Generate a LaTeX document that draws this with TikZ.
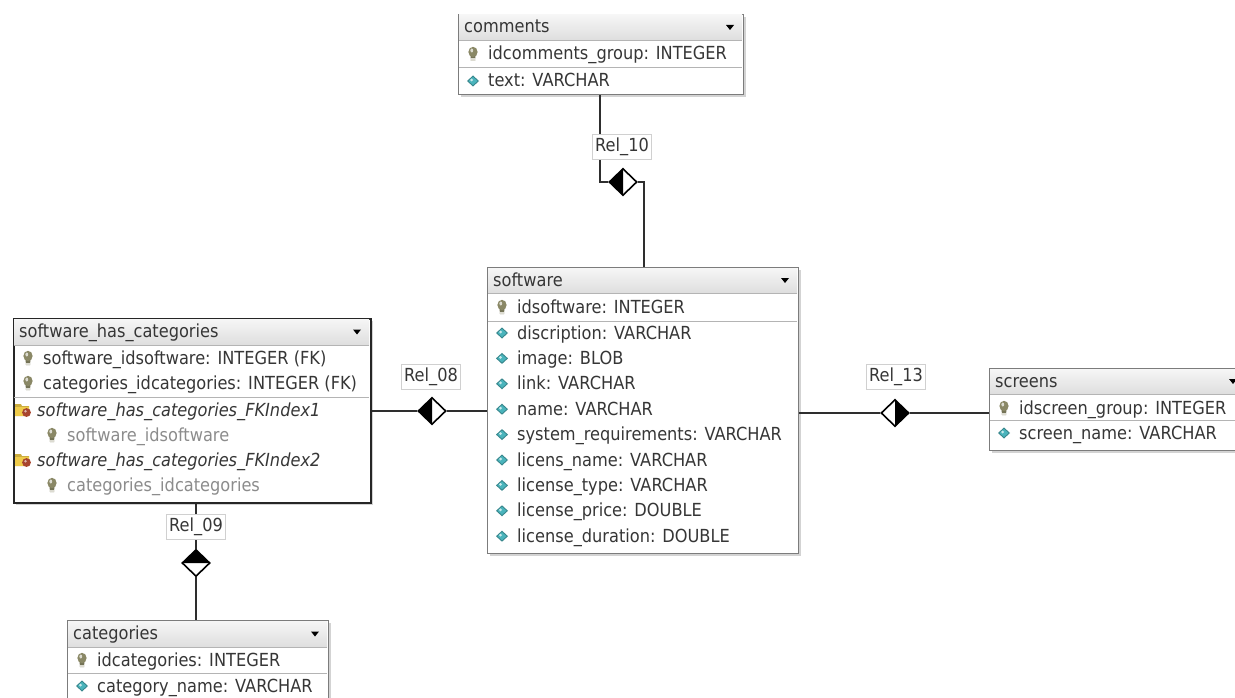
\documentclass[tikz,border=0pt]{standalone}
\usepackage{fontspec}
\setmainfont{DejaVu Sans}[FakeStretch=0.9]
\usetikzlibrary{shapes.geometric,shadows}
\definecolor{txt}{HTML}{363636}
\definecolor{subtxt}{HTML}{8C8C8C}
\definecolor{tblborder}{HTML}{7C7C7C}
\definecolor{sepline}{HTML}{B4B4B4}
\definecolor{hdrtop}{HTML}{F6F6F6}
\definecolor{hdrbot}{HTML}{DEDEDE}
\definecolor{connc}{HTML}{2E2E2E}
\definecolor{lblborder}{HTML}{D0D0D0}
\definecolor{keyc}{HTML}{8A8866}
\definecolor{attrc}{HTML}{4AB4BC}
\definecolor{foldc}{HTML}{EFCB4A}
\definecolor{dotc}{HTML}{A8452E}
\newcommand{\tfont}{\fontsize{18}{20}\selectfont}

\tikzset{
  tbl/.style={draw=tblborder, line width=1.3pt, fill=white, inner sep=0pt,
    drop shadow={shadow xshift=2pt, shadow yshift=-2pt, opacity=0.35}},
  tblsel/.style={draw=black!85, line width=2pt, fill=white, inner sep=0pt,
    drop shadow={shadow xshift=2pt, shadow yshift=-2pt, opacity=0.35}},
  ttl/.style={anchor=base west, inner sep=0pt, text=txt, font=\tfont},
  fld/.style={anchor=base west, inner sep=0pt, text=txt, font=\tfont},
  idxfld/.style={anchor=base west, inner sep=0pt, text=txt, font=\tfont\itshape},
  subfld/.style={anchor=base west, inner sep=0pt, text=subtxt, font=\tfont},
  conn/.style={draw=connc, line width=1.8pt},
  rellbl/.style={draw=lblborder, line width=0.8pt, fill=white, text=txt, font=\tfont,
    inner xsep=3pt, inner ysep=0pt, minimum height=25pt},
  dia/.style={shape=diamond, draw=black, line width=1.6pt, fill=white,
    minimum width=28pt, minimum height=27pt, inner sep=0pt},
  diaL/.style={dia, path picture={\fill[black] (path picture bounding box.north) --
    (path picture bounding box.west) -- (path picture bounding box.south) -- cycle;}},
  diaR/.style={dia, path picture={\fill[black] (path picture bounding box.north) --
    (path picture bounding box.east) -- (path picture bounding box.south) -- cycle;}},
  diaT/.style={dia, path picture={\fill[black] (path picture bounding box.west) --
    (path picture bounding box.north) -- (path picture bounding box.east) -- cycle;}},
  pkicon/.pic={
    \fill[keyc!85!black] (-2.6,0) -- (2.6,0) -- (2,7) -- (-2,7) -- cycle;
    \fill[keyc!30!white] (-2,4.5) rectangle (2,7);
    \fill[keyc] (0,-2) ellipse (4.6pt and 5.2pt);
    \fill[keyc!30!white] (-1.2,-3.5) ellipse (1.4pt and 2pt);
  },
  attricon/.pic={
    \fill[attrc!75!black] (-6,0) -- (0,-5.5) -- (6,0) -- (0,5.5) -- cycle;
    \fill[attrc] (-4.5,0) -- (0,-4) -- (4.5,0) -- (0,4) -- cycle;
    \fill[attrc!30!white] (-1.5,-1) circle (1.5pt);
  },
  idxicon/.pic={
    \fill[foldc!85!black] (-8,-6) -- (-2,-6) -- (-1,-4) -- (6,-4) -- (6,6) -- (-8,6) -- cycle;
    \fill[foldc] (-8,-3) rectangle (6,6);
    \fill[dotc] (3.5,2.5) circle (4.4pt);
    \fill[dotc!40!white] (2.5,1.2) circle (1.3pt);
  }
}

% #1 style, #2 name, #3 x1, #4 y1, #5 x2, #6 y2, #7 header bottom, #8 title
\newcommand{\erbox}[8][tbl]{%
  \node[#1, anchor=north west, minimum width={#5-#3}, minimum height={#6-#4}] (#2) at (#3,#4) {};
  \shade[top color=hdrtop, bottom color=hdrbot] (#3+1,#4+1) rectangle (#5-1,#7);
  \draw[sepline, line width=0.8pt] (#3+1,#7) -- (#5-1,#7);
  \node[ttl] (#2-title) at (#3+6,{(#4+#7)/2+6}) {#8};
  \fill[black] (#5-17,{(#4+#7)/2-2}) -- (#5-9,{(#4+#7)/2-2}) -- (#5-13,{(#4+#7)/2+3}) -- cycle;
}
% #1 name, #2 table x, #3 row centre y, #4 text
\newcommand{\pkrow}[4]{%
  \pic at (#2+15,#3) {pkicon};
  \node[fld] (#1) at (#2+30,#3+6) {#4};
}
\newcommand{\atrow}[4]{%
  \pic at (#2+15,#3) {attricon};
  \node[fld] (#1) at (#2+30,#3+6) {#4};
}
\newcommand{\idxrow}[4]{%
  \pic at (#2+10,#3) {idxicon};
  \node[idxfld] (#1) at (#2+24,#3+6) {#4};
}
\newcommand{\subrow}[4]{%
  \pic at (#2+39,#3) {pkicon};
  \node[subfld] (#1) at (#2+54,#3+6) {#4};
}
\newcommand{\sepl}[3]{\draw[sepline, line width=0.8pt] (#1+1,#3) -- (#2-1,#3);}

\begin{document}
\begin{tikzpicture}[x=1pt,y=-1pt]
\useasboundingbox (0,0) rectangle (1235,698);
\clip (0,0) rectangle (1235,698);

% ---------- comments ----------
\erbox{comments}{458}{14}{743}{94}{40}{comments}
\pkrow{cm-r1}{458}{54}{idcomments\_group: INTEGER}
\sepl{458}{743}{67}
\atrow{cm-r2}{458}{81}{text: VARCHAR}

% ---------- software ----------
\erbox{software}{487}{267}{798}{553}{293}{software}
\pkrow{sw-r0}{487}{307}{idsoftware: INTEGER}
\sepl{487}{798}{321}
\foreach \t [count=\i] in {discription: VARCHAR, image: BLOB, link: VARCHAR, name: VARCHAR,
  system\_requirements: VARCHAR, licens\_name: VARCHAR, license\_type: VARCHAR,
  license\_price: DOUBLE, license\_duration: DOUBLE}{
  \pgfmathsetmacro{\yy}{333+25.4*(\i-1)}
  \atrow{sw-r\i}{487}{\yy}{\t}
}

% ---------- software_has_categories ----------
\erbox[tblsel]{shc}{13}{318}{370}{502}{345}{software\_has\_categories}
\pkrow{shc-r1}{13}{358}{software\_idsoftware: INTEGER (FK)}
\pkrow{shc-r2}{13}{383}{categories\_idcategories: INTEGER (FK)}
\sepl{13}{370}{397}
\idxrow{shc-i1}{13}{410}{software\_has\_categories\_FKIndex1}
\subrow{shc-s1}{13}{435}{software\_idsoftware}
\idxrow{shc-i2}{13}{460}{software\_has\_categories\_FKIndex2}
\subrow{shc-s2}{13}{485}{categories\_idcategories}

% ---------- screens ----------
\erbox{screens}{989}{368}{1246}{450}{394}{screens}
\pkrow{sc-r1}{989}{408}{idscreen\_group: INTEGER}
\sepl{989}{1246}{420}
\atrow{sc-r2}{989}{433}{screen\_name: VARCHAR}

% ---------- categories ----------
\erbox{categories}{67}{620}{328}{702}{647}{categories}
\pkrow{ca-r1}{67}{660}{idcategories: INTEGER}
\sepl{67}{328}{673}
\atrow{ca-r2}{67}{686}{category\_name: VARCHAR}

% ---------- relationships ----------
% Rel_10
\node[diaL] (d10) at (623,182) {};
\coordinate (c10a) at (600,182);
\coordinate (c10b) at (644,182);
\draw[conn] (comments.south -| c10a) -- (c10a) -- (d10.west);
\draw[conn] (d10.east) -- (c10b) -- (software.north -| c10b);
\node[rellbl] (r10) at (622,147) {Rel\_10};

% Rel_08
\node[diaL] (d08) at (432,411) {};
\draw[conn] (shc.east |- d08) -- (d08.west);
\draw[conn] (d08.east) -- (software.west |- d08);
\node[rellbl] (r08) at (431,377) {Rel\_08};

% Rel_13
\node[diaR] (d13) at (895,413) {};
\draw[conn] (software.east |- d13) -- (d13.west);
\draw[conn] (d13.east) -- (screens.west |- d13);
\node[rellbl] (r13) at (896,377) {Rel\_13};

% Rel_09
\node[diaT] (d09) at (196,563) {};
\draw[conn] (shc.south -| d09) -- (d09.north);
\draw[conn] (d09.south) -- (categories.north -| d09);
\node[rellbl] (r09) at (196,527) {Rel\_09};
\end{tikzpicture}
\end{document}
